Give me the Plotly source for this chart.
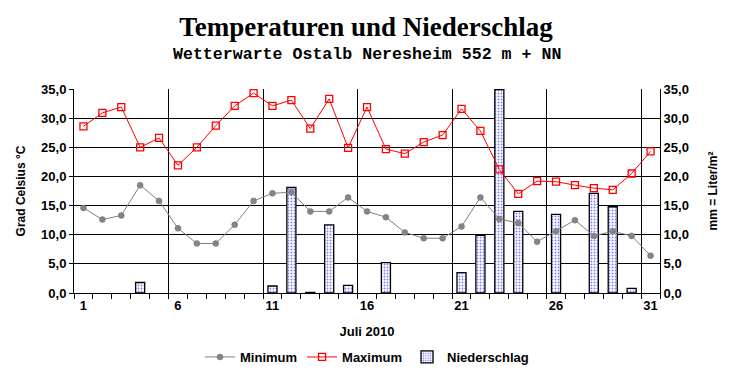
import plotly.graph_objects as go

days = list(range(1, 32))
t_min = [14.6, 12.6, 13.3, 18.5, 15.8, 11.1, 8.5, 8.5, 11.7, 15.8, 17.1, 17.3, 14.0, 14.0, 16.4, 14.0,
         13.0, 10.4, 9.4, 9.4, 11.4, 16.4, 12.7, 12.0, 8.8, 10.6, 12.5, 9.8, 10.6, 9.8, 6.4]
t_max = [28.6, 30.9, 31.9, 25.0, 26.6, 21.9, 25.0, 28.7, 32.1, 34.3, 32.1, 33.1, 28.2, 33.3, 24.9, 31.9,
         24.7, 23.9, 25.9, 27.1, 31.6, 27.8, 21.2, 17.0, 19.2, 19.1, 18.5, 18.0, 17.7, 20.5, 24.3]
precip = [0, 0, 0, 1.8, 0, 0, 0, 0, 0, 0, 1.2, 18.1, 0.1, 11.7, 1.3, 0, 5.2, 0, 0, 0, 3.5, 9.9,
          34.9, 14.0, 0, 13.5, 0, 17.1, 14.8, 0.8, 0]
x_labels = [1, 6, 11, 16, 21, 26, 31]
week_bounds = [5.5, 10.5, 15.5, 20.5, 25.5, 30.5]
y_ticks = [0, 5, 10, 15, 20, 25, 30, 35]

bold = dict(family="Liberation Sans", size=13, color="black", weight="bold")
bold12 = dict(family="Liberation Sans", size=12, color="black", weight="bold")

fig = go.Figure()
fig.add_trace(go.Scatter(
    x=days, y=t_min, name="Minimum", mode="lines+markers", xaxis="x2", yaxis="y2",
    line=dict(color="#808080", width=1),
    marker=dict(symbol="circle", size=6, color="#858585", line=dict(color="#777777", width=0.5)),
))
fig.add_trace(go.Scatter(
    x=days, y=t_max, name="Maximum", mode="lines+markers", xaxis="x2", yaxis="y2",
    line=dict(color="#ff0000", width=1),
    marker=dict(symbol="square-open", size=7, color="#ff0000", line=dict(width=1.3)),
))
# days without precipitation draw no bar
fig.add_trace(go.Bar(
    x=days, y=[v if v > 0 else None for v in precip], name="Niederschlag", width=0.48,
    xaxis="x", yaxis="y",
    marker=dict(color="white", line=dict(color="black", width=1.3),
                pattern=dict(shape=".", fgcolor="#0000ff", bgcolor="white", size=3, solidity=0.3)),
))

fig.update_layout(
    width=732, height=380,
    margin=dict(l=74, r=72, t=89, b=87, autoexpand=False),
    paper_bgcolor="white", plot_bgcolor="white",
    separators=",.",
    showlegend=True,
    title=dict(text="<b>Temperaturen und Niederschlag</b>", x=0.5, xanchor="center",
               y=1 - 27 / 380, yanchor="middle",
               font=dict(family="Liberation Serif", size=27, color="black")),
    annotations=[dict(text="<b>Wetterwarte Ostalb Neresheim 552 m + NN</b>", xref="paper", yref="paper",
                      x=0.5, y=1 + (89.3 - 55) / 203.4, xanchor="center", yanchor="middle",
                      showarrow=False, font=dict(family="Liberation Mono", size=16.6, color="black"))],
    xaxis=dict(range=[0.5, 31.5], tickvals=x_labels, ticktext=[str(v) for v in x_labels],
               showgrid=False, zeroline=False, showline=True, linecolor="black", linewidth=1,
               ticks="", tickfont=bold, automargin=False,
               minor=dict(tick0=0.5, dtick=1, ticks="outside", ticklen=5, tickcolor="black", showgrid=False),
               title=dict(text="Juli 2010", font=bold, standoff=15)),
    xaxis2=dict(range=[0.5, 31.5], overlaying="x", anchor="y", tickvals=week_bounds,
                showticklabels=False, ticks="", showgrid=True, gridcolor="black", gridwidth=1,
                zeroline=False, showline=False, automargin=False),
    yaxis=dict(range=[0, 35], side="right", tickvals=y_ticks, tickformat=".1f",
               showgrid=True, gridcolor="black", gridwidth=1, zeroline=False, automargin=False,
               showline=True, linecolor="black", linewidth=1, ticks="", tickfont=bold,
               title=dict(text="mm = Liter/m²", font=bold12, standoff=20)),
    yaxis2=dict(range=[0, 35], side="left", overlaying="y", anchor="x", tickvals=y_ticks, tickformat=".1f",
                showgrid=False, zeroline=False, showline=True, linecolor="black", linewidth=1,
                automargin=False,
                ticks="outside", ticklen=4, tickcolor="black", tickfont=bold,
                title=dict(text="Grad Celsius °C", font=bold12, standoff=12)),
    legend=dict(orientation="h", x=0.5, xanchor="center", yref="container", y=1 - 357 / 380,
                yanchor="middle", font=bold, traceorder="normal", itemwidth=30, tracegroupgap=0),
)

fig.write_html("out.html", config={"displayModeBar": False},
               post_script="document.body.style.margin='0px';document.body.style.overflow='hidden';")
